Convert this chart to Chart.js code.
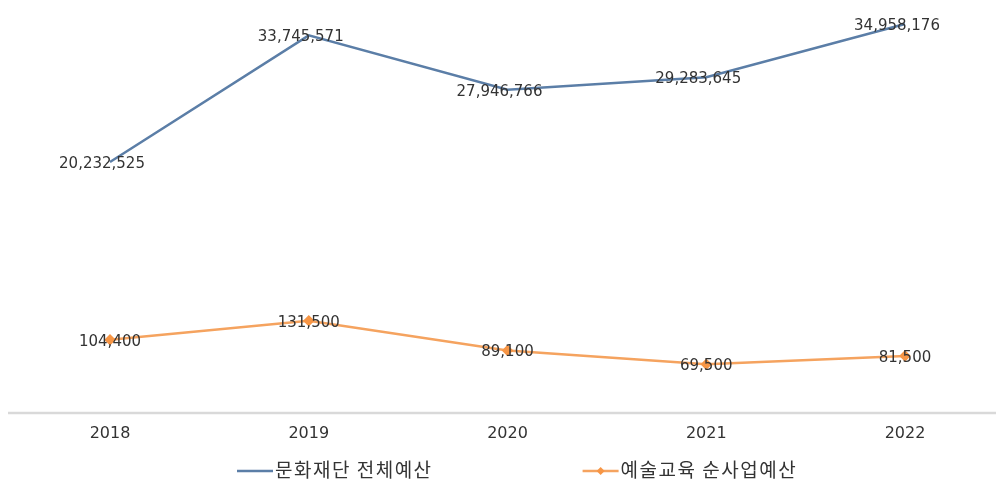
<!DOCTYPE html>
<html>
<head>
<meta charset="utf-8">
<script src="https://cdn.jsdelivr.net/npm/chart.js@4"></script>
<style>
  html, body { margin: 0; padding: 0; background: #fff; }
  #wrap { width: 999px; height: 479px; position: relative; }
</style>
</head>
<body>
<div id="wrap"><canvas id="budgetChart"></canvas></div>
<script>
const years = ['2018', '2019', '2020', '2021', '2022'];
const seriesNames = ['문화재단 전체예산', '예술교육 순사업예산'];
const totalBudget = [20232525, 33745571, 27946766, 29283645, 34958176];
const artsEduBudget = [104400, 131500, 89100, 69500, 81500];

const blue = '#5b7ea7';
const orange = '#f5a35f';
const textColor = '#333333';

const fmt = v => v.toLocaleString('en-US');

/* baseline running across the whole width */
const baselinePlugin = {
  id: 'baseline',
  beforeDatasetsDraw(chart) {
    const ctx = chart.ctx;
    const y = chart.scales.yEdu.getPixelForValue(0);
    ctx.save();
    ctx.strokeStyle = '#d9d9d9';
    ctx.lineWidth = 2.5;
    ctx.beginPath();
    ctx.moveTo(8, y);
    ctx.lineTo(996, y);
    ctx.stroke();
    ctx.restore();
  }
};

/* value labels sitting on top of each point */
const valueLabelsPlugin = {
  id: 'valueLabels',
  afterDatasetsDraw(chart) {
    const ctx = chart.ctx;
    ctx.save();
    ctx.font = '15px "DejaVu Sans"';
    ctx.fillStyle = textColor;
    ctx.textAlign = 'center';
    ctx.textBaseline = 'middle';
    chart.data.datasets.forEach((ds, i) => {
      const meta = chart.getDatasetMeta(i);
      const dx = i === 0 ? -8 : 0;
      meta.data.forEach((pt, j) => {
        ctx.fillText(fmt(ds.data[j]), pt.x + dx, pt.y + 2);
      });
    });
    ctx.restore();
  }
};

/* legend row under the axis */
const legendRowPlugin = {
  id: 'legendRow',
  afterDraw(chart) {
    const ctx = chart.ctx;
    const y = 471;
    let x = 237;
    ctx.save();
    ctx.font = '19px "Noto Sans CJK KR"';
    ctx.letterSpacing = '1.5px';
    ctx.textBaseline = 'middle';
    ctx.textAlign = 'left';
    chart.data.datasets.forEach((ds, i) => {
      ctx.strokeStyle = ds.borderColor;
      ctx.lineWidth = 2.5;
      ctx.beginPath();
      ctx.moveTo(x, y);
      ctx.lineTo(x + 36, y);
      ctx.stroke();
      if (ds.pointRadius > 0) {
        const cx = x + 18, r = 4;
        ctx.fillStyle = ds.pointBackgroundColor;
        ctx.beginPath();
        ctx.moveTo(cx, y - r);
        ctx.lineTo(cx + r, y);
        ctx.lineTo(cx, y + r);
        ctx.lineTo(cx - r, y);
        ctx.closePath();
        ctx.fill();
      }
      ctx.fillStyle = textColor;
      ctx.fillText(ds.label, x + 38, y - 1);
      x += 38 + ctx.measureText(ds.label).width + 150;
    });
    ctx.restore();
  }
};

new Chart(document.getElementById('budgetChart'), {
  type: 'line',
  data: {
    labels: years,
    datasets: [
      {
        label: seriesNames[0],
        data: totalBudget,
        yAxisID: 'yTotal',
        borderColor: blue,
        backgroundColor: blue,
        borderWidth: 2.5,
        pointRadius: 0,
        tension: 0
      },
      {
        label: seriesNames[1],
        data: artsEduBudget,
        yAxisID: 'yEdu',
        borderColor: orange,
        backgroundColor: '#f79646',
        pointBackgroundColor: '#f79646',
        pointBorderColor: '#f79646',
        pointStyle: 'rectRot',
        pointRadius: 4,
        borderWidth: 2.5,
        tension: 0
      }
    ]
  },
  options: {
    responsive: true,
    maintainAspectRatio: false,
    animation: false,
    layout: { padding: { left: 110, right: 94, top: 10, bottom: 0 } },
    scales: {
      x: {
        grid: { display: false, drawTicks: false },
        border: { display: false },
        ticks: {
          color: textColor,
          font: { family: 'DejaVu Sans', size: 16 },
          padding: 11,
          maxRotation: 0
        },
        afterFit(scale) { scale.height = 66; }
      },
      yTotal: {
        display: false,
        min: -6550000,
        max: 36450000
      },
      yEdu: {
        display: false,
        min: 0,
        max: 575000
      }
    },
    plugins: {
      legend: { display: false },
      tooltip: { enabled: false }
    }
  },
  plugins: [baselinePlugin, valueLabelsPlugin, legendRowPlugin]
});
</script>
</body>
</html>
